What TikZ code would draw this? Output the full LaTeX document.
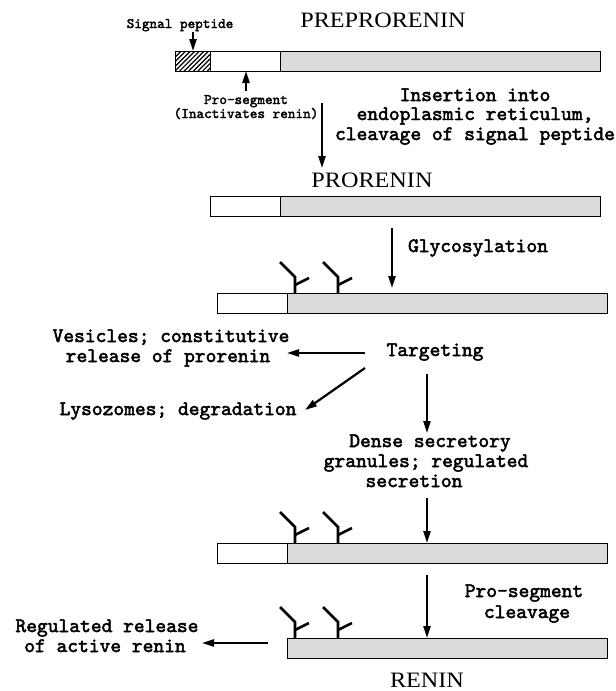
\documentclass[tikz,border=0pt]{standalone}
\usepackage{fontspec}
\usetikzlibrary{arrows.meta}
\newfontfamily\bodyfont{lmmono10-regular.otf}[FakeBold=2.4]
\newfontfamily\smallfont{lmmono10-regular.otf}[FakeBold=2.2]
\newfontfamily\headfont{Liberation Serif}[FakeStretch=1.1]
\definecolor{bargray}{gray}{0.86}
\tikzset{
  bar/.style={draw, line width=1.4pt, inner sep=0pt, minimum height=20pt, anchor=north west},
  whitebar/.style={bar, fill=white},
  graybar/.style={bar, fill=bargray},
  lbl/.style={inner sep=0pt, anchor=base, font=\bodyfont\fontsize{20.5}{24}\selectfont},
  smalllbl/.style={inner sep=0pt, anchor=base, font=\smallfont\fontsize{14.5}{16}\selectfont},
  headlbl/.style={inner sep=0pt, anchor=base, font=\headfont\fontsize{22}{24}\selectfont},
  arr/.style={line width=2.2pt, -{Triangle[length=12pt,width=7pt]}},
  glycan/.pic={\draw[line width=2.6pt] (0,0) -- (0,-16) -- (-15,-31);
               \draw[line width=2.6pt] (0,-8) -- (14,-15);}
}
\begin{document}
\begin{tikzpicture}[x=1pt,y=-1pt]
\useasboundingbox (0,0) rectangle (616,691);

% ---------- PREPRORENIN ----------
\node[headlbl] (prepro) at (383,27) {PREPRORENIN};
\node[smalllbl] (sig) at (180,28) {Signal peptide};
\begin{scope}
  \clip (175,51) rectangle (210,71);
  \foreach \i in {0,...,14} \draw[line width=1.2pt] (152+\i*4.6,71) -- (172+\i*4.6,51);
\end{scope}
\node[bar, minimum width=35pt] (b1h) at (175,51) {};
\node[whitebar, minimum width=70pt] (b1w) at (210,51) {};
\node[graybar, minimum width=320pt] (b1g) at (280,51) {};
\coordinate (sigtail) at (193,32);
\coordinate (sigtip) at (193,51);
\draw[arr] (sigtail) -- (sigtip);

\node[smalllbl] (pro1) at (246,104) {Pro-segment};
\node[smalllbl] (pro2) at (246,118) {(Inactivates renin)};
\coordinate (protail) at (246,91);
\coordinate (protip) at (246,71);
\draw[arr] (protail) -- (protip);

\node[lbl] (ins1) at (475,101) {Insertion into};
\node[lbl] (ins2) at (475,120) {endoplasmic reticulum,};
\node[lbl] (ins3) at (475,140) {cleavage of signal peptide};
\coordinate (a1s) at (322,103);
\coordinate (a1e) at (322,168);
\draw[arr] (a1s) -- (a1e);

% ---------- PRORENIN ----------
\node[headlbl] (pro) at (372,187) {PRORENIN};
\node[whitebar, minimum width=70pt] (b2w) at (210,196) {};
\node[graybar, minimum width=320pt] (b2g) at (280,196) {};
\coordinate (a2s) at (392,228);
\coordinate (a2e) at (392,288);
\draw[arr] (a2s) -- (a2e);
\node[lbl] (glyc) at (478,252) {Glycosylation};

% ---------- glycosylated prorenin ----------
\node[whitebar, minimum width=70pt] (b3w) at (217,293) {};
\node[graybar, minimum width=320pt] (b3g) at (287,293) {};
\pic at (295,293) {glycan};
\pic at (338,293) {glycan};

\node[lbl] (targ) at (435,356) {Targeting};
\node[lbl] (ves1) at (171,342) {Vesicles; constitutive};
\node[lbl] (ves2) at (168,362) {release of prorenin};
\node[lbl] (lys) at (178,415) {Lysozomes; degradation};
\coordinate (t1s) at (365,353);
\coordinate (t1e) at (287,353);
\draw[arr] (t1s) -- (t1e);
\coordinate (t2s) at (365,368);
\coordinate (t2e) at (305,410);
\draw[arr] (t2s) -- (t2e);
\coordinate (t3s) at (427,374);
\coordinate (t3e) at (427,433);
\draw[arr] (t3s) -- (t3e);

\node[lbl] (den1) at (430,447) {Dense secretory};
\node[lbl] (den2) at (426,467) {granules; regulated};
\node[lbl] (den3) at (414,487) {secretion};
\coordinate (d1s) at (427,498);
\coordinate (d1e) at (427,543);
\draw[arr] (d1s) -- (d1e);

% ---------- stored prorenin ----------
\node[whitebar, minimum width=70pt] (b4w) at (217,543) {};
\node[graybar, minimum width=320pt] (b4g) at (287,543) {};
\pic at (295,543) {glycan};
\pic at (338,543) {glycan};

\coordinate (c1s) at (427,575);
\coordinate (c1e) at (427,638);
\draw[arr] (c1s) -- (c1e);
\node[lbl] (cl1) at (524,597) {Pro-segment};
\node[lbl] (cl2) at (527,618) {cleavage};

% ---------- RENIN ----------
\node[graybar, minimum width=320pt] (b5g) at (287,638) {};
\pic at (295,638) {glycan};
\pic at (338,638) {glycan};
\coordinate (r1s) at (268,643);
\coordinate (r1e) at (202,643);
\draw[arr] (r1s) -- (r1e);
\node[lbl] (reg1) at (107,632) {Regulated release};
\node[lbl] (reg2) at (105,652) {of active renin};
\node[headlbl] (renin) at (427,687) {RENIN};
\end{tikzpicture}
\end{document}
